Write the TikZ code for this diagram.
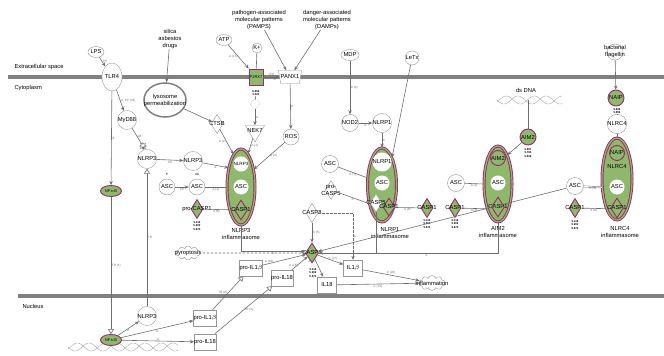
\documentclass[tikz,border=0pt]{standalone}
\usepackage{fontspec}
\setmainfont{Liberation Sans}
\usetikzlibrary{shapes.geometric,shapes.symbols,arrows.meta,positioning}

\definecolor{membgray}{RGB}{128,128,128}
\definecolor{linegray}{RGB}{110,110,110}
\definecolor{nodegray}{RGB}{150,150,150}
\definecolor{hitgreen}{RGB}{142,184,108}
\definecolor{hitmag}{RGB}{158,42,108}

\newcommand\molfont{\fontsize{5.8}{7}\selectfont}
\newcommand\edgefont{\fontsize{3.1}{3.5}\selectfont}
\newcommand\valfont{\fontsize{2.8}{3.2}\selectfont\bfseries}
\newcommand\dnahelix[3]{% left x, middle y, width
  \draw[nodegray, line width=0.3pt] plot[domain=0:#3, samples=90, smooth] ({#1+\x},{#2+4*sin(\x/28*360)});
  \draw[nodegray, line width=0.3pt] plot[domain=0:#3, samples=90, smooth] ({#1+\x},{#2+4*sin(\x/28*360+150)});
}

\tikzset{
  membrane/.style={draw=membgray, line width=3.6pt},
  mol/.style={circle, draw=nodegray, fill=white, minimum size=17pt, inner sep=0pt, font=\molfont},
  molabel/.style={font=\molfont, align=center, inner sep=0pt},
  inner/.style={circle, fill=white, minimum size=15pt, inner sep=0pt, font=\molfont},
  hitmol/.style={mol, draw=hitmag, fill=hitgreen, line width=0.9pt},
  infl/.style={ellipse, draw=hitmag, double=hitgreen, double distance=1.2pt, line width=0.9pt,
    fill=hitgreen, minimum width=28pt, minimum height=76pt},
  enz/.style={diamond, draw=nodegray, fill=white, minimum width=12pt, minimum height=19pt, inner sep=0pt},
  hitenz/.style={enz, draw=hitmag, fill=hitgreen, line width=0.9pt},
  cytok/.style={rectangle, draw=nodegray, fill=white, minimum width=19pt, minimum height=16pt, inner sep=0pt, font=\molfont},
  lnk/.style={draw=linegray, line width=0.6pt},
  act/.style={lnk, -{Stealth[length=4pt,width=3.4pt]}},
  trn/.style={lnk, -{Triangle[open,length=5pt,width=6pt,fill=white]}},
  dsh/.style={lnk, dash pattern=on 2.5pt off 1.5pt},
  elab/.style={font=\edgefont, text=linegray, inner sep=0.6pt},
  vals/.style={font=\valfont, align=center, inner sep=0pt},
}

\begin{document}
\begin{tikzpicture}[x=1pt,y=-1pt]
\useasboundingbox (0,0) rectangle (664,356);

% compartments
\draw[membrane] (8,77) -- (664,77);
\draw[membrane] (18,296) -- (664,296);
\node[anchor=west, font=\molfont] (extra) at (11,67) {Extracellular space};
\node[anchor=west, font=\molfont] (cytoplasm) at (11,88) {Cytoplasm};
\node[anchor=west, font=\molfont] (nucleus) at (19,306) {Nucleus};

% extracellular inputs
\node[mol, ellipse, minimum width=16pt, minimum height=11pt] (lps) at (96,52) {LPS};
\node[molabel] (silica) at (170,39) {silica\\asbestos\\drugs};
\node[mol, ellipse, minimum width=16pt, minimum height=11pt] (atp) at (224,40) {ATP};
\node[mol, minimum size=10pt] (kplus) at (257,48) {K+};
\node[molabel] (pamps) at (259,20) {pathogen-associated\\molecular patterns\\(PAMPS)};
\node[molabel] (damps) at (327,20) {danger-associated\\molecular patterns\\(DAMPs)};
\node[mol, ellipse, minimum width=16pt, minimum height=11pt] (mdp) at (350,55) {MDP};
\node[mol, minimum size=14pt] (letx) at (412,58) {LeTx};
\node[mol, minimum size=16pt, label={[molabel]center:bacterial\\flagellin}] (flag) at (615,52) {};

% membrane receptors
\node[mol, ellipse, minimum width=14pt, minimum height=28pt] (tlr4) at (112,77) {TLR4};
\node[rectangle, draw=hitmag, fill=hitgreen, line width=0.9pt, minimum width=14pt, minimum height=16pt,
  inner sep=0pt, font=\fontsize{4}{5}\selectfont] (p2rx7) at (256,77) {P2RX7};
\node[trapezium, shape border rotate=180, draw=nodegray, fill=white, minimum width=22pt, minimum height=13pt,
  inner sep=0pt, trapezium stretches=true, font=\molfont] (panx1) at (290,77) {PANX1};

% cytoplasm, left part
\node[mol, minimum size=42pt, minimum height=34pt, ellipse, draw=membgray, line width=1.5pt,
  label={[molabel]center:lysosome\\permeabilization}] (lyso) at (165,100) {};
\node[mol, minimum size=16pt] (myd88) at (127,120) {MyD88};
\node[star, star points=8, star point ratio=1.8, draw=linegray, minimum size=7pt, inner sep=0pt] (lbstar) at (143,146) {};
\node[mol, minimum size=18pt] (nlrp3a) at (147,159) {NLRP3};
\node[mol, minimum size=18pt] (nlrp3b) at (193,161) {NLRP3};
\node[enz, label={[molabel]center:CTSB}] (ctsb) at (217,124) {};
\node[vals] (p2val) at (256,93) {5.859\\4.021};
\node[circle, draw=nodegray, densely dotted, minimum size=9pt, inner sep=0pt] (kefflux) at (255,104) {};
\node[regular polygon, regular polygon sides=3, shape border rotate=180, draw=nodegray, fill=white,
  minimum size=22pt, inner sep=0pt, label={[molabel]center:NEK7}] (nek7) at (255,131) {};
\node[mol, minimum size=16pt] (ros) at (291,137) {ROS};
\node[mol, minimum size=17pt] (nod2) at (350,123) {NOD2};
\node[mol, minimum size=17pt] (nlrp1) at (382,123) {NLRP1};
\node[mol, ellipse, draw=hitmag, fill=hitgreen, line width=0.9pt, minimum width=21pt, minimum height=11pt,
  font=\fontsize{4}{5}\selectfont] (nfkb) at (111,191) {NF$\kappa$B};

% NLRP3 inflammasome
\node[mol, minimum size=16pt, label={[font=\edgefont, text=black]above:P}] (ascp) at (167,187) {ASC};
\node[mol, minimum size=16pt, label={[font=\edgefont, text=black]above:Ub}] (ascu) at (197,187) {ASC};
\node[hitenz, label={[molabel]center:pro-CASP1}] (procasp1) at (197,209) {};
\node[vals] (procasp1val) at (197,226) {5.116\\5.902\\5.674};
\node[infl] (n3) at (241,187) {};
\node[inner, font=\fontsize{4.6}{5}\selectfont] (n3nlrp) at (241,164) {NLRP3};
\node[inner] (n3asc) at (241,187) {ASC};
\node[hitenz, minimum width=13pt, minimum height=20pt, label={[molabel]center:CASP1}] (n3casp) at (241,210) {};
\node[molabel] (n3lab) at (241,234) {NLRP3\\inflammasome};

% NLRP1 inflammasome
\node[mol, minimum size=17pt] (asc1) at (330,164) {ASC};
\node[enz, label={[molabel]center:pro-\\CASP5}] (procasp5) at (331,190) {};
\node[infl, minimum width=29pt, minimum height=74pt] (n1) at (382,185) {};
\node[inner] (n1nlrp) at (382,162) {NLRP1};
\node[inner] (n1asc) at (382,183) {ASC};
\node[enz, minimum width=12pt, minimum height=18pt, label={[molabel]center:CASP5}] (n1casp5) at (376,203) {};
\node[hitenz, minimum width=12pt, minimum height=18pt, label={[molabel]center:CASP1}] (n1casp1) at (389,207) {};
\node[molabel] (n1lab) at (390,233) {NLRP1\\inflammasome};
\node[hitenz, label={[molabel]center:CASP1}] (casp1a) at (427,208) {};
\node[vals] (casp1aval) at (427,224) {5.116\\5.902\\5.674};

% AIM2 inflammasome
\node[molabel] (dsdnalab) at (526,90) {ds DNA};
\dnahelix{497}{100}{65}
\coordinate (dsdna) at (528,100);
\node[hitmol, minimum size=16pt] (aim2) at (528,137) {AIM2};
\node[vals] (aim2val) at (528,153) {5.897\\5.760\\5.639};
\node[mol, minimum size=17pt] (asc2) at (456,183) {ASC};
\node[hitenz, label={[molabel]center:CASP1}] (casp1b) at (455,208) {};
\node[vals] (casp1bval) at (455,224) {5.116\\5.902\\5.674};
\node[infl] (n2) at (498,184) {};
\node[hitmol, minimum size=15pt] (n2aim2) at (498,158) {AIM2};
\node[inner] (n2asc) at (498,183) {ASC};
\node[hitenz, minimum width=13pt, minimum height=20pt, label={[molabel]center:CASP1}] (n2casp) at (498,207) {};
\node[molabel] (n2lab) at (498,232) {AIM2\\inflammasome};

% NLRC4 inflammasome
\node[hitmol, minimum size=16pt] (naip) at (616,98) {NAIP};
\node[vals] (naipval) at (617,111) {5.826\\5.856};
\node[mol, minimum size=14pt] (nlrc4) at (617,124) {NLRC4};
\node[mol, minimum size=17pt] (asc3) at (575,186) {ASC};
\node[hitenz, label={[molabel]center:CASP1}] (casp1c) at (575,208) {};
\node[vals] (casp1cval) at (575,225) {5.116\\5.902\\5.674};
\node[infl, minimum width=30pt, minimum height=82pt] (n4) at (617,179) {};
\node[hitmol, minimum size=15pt] (n4naip) at (617,153) {NAIP};
\node[molabel] (n4nlrc4) at (617,167) {NLRC4};
\node[inner] (n4asc) at (617,187) {ASC};
\node[hitenz, minimum width=13pt, minimum height=20pt, label={[molabel]center:CASP1}] (n4casp) at (617,208) {};
\node[molabel] (n4lab) at (620,232) {NLRC4\\inflammasome};

% caspase-1 and cytokines
\node[enz, label={[molabel]center:CASP8}] (casp8) at (312,213) {};
\node[hitenz, minimum width=13pt, minimum height=20pt, label={[molabel]center:CASP1}] (cc) at (312,253) {};
\node[vals] (ccval) at (313,273) {5.116\\5.902\\5.674};
\node[cloud, cloud puffs=10, draw=nodegray, minimum width=24pt, minimum height=14pt,
  label={[molabel]center:pyroptosis}] (pyro) at (188,253) {};
\node[cytok] (proil1b) at (251,268) {pro-IL1$\beta$};
\node[cytok] (proil18) at (282,278) {pro-IL18};
\node[cytok] (il1b) at (353,268) {IL1$\beta$};
\node[cytok] (il18) at (327,285) {IL18};
\node[cloud, cloud puffs=10, draw=nodegray, minimum width=26pt, minimum height=15pt,
  label={[molabel]center:inflammation}] (inflam) at (432,283) {};

% nucleus
\dnahelix{68}{347}{110}
\node[mol, minimum size=18pt] (nlrp3n) at (147,316) {NLRP3};
\node[mol, ellipse, draw=hitmag, fill=hitgreen, line width=0.9pt, minimum width=21pt, minimum height=11pt,
  font=\fontsize{4}{5}\selectfont] (nfkbn) at (111,340) {NF$\kappa$B};
\node[cytok] (proil1bn) at (205,318) {pro-IL1$\beta$};
\node[cytok] (proil18n) at (205,342) {pro-IL18};

% TLR4 and lysosome branch
\draw[act] (lps) -- node[elab, right]{PP} (tlr4);
\draw[act] (tlr4) -- node[elab, right]{A, PP (33)} (myd88);
\draw[act] (silica) -- (lyso);
\draw[act] (lyso) -- (ctsb);
\draw[lnk] (myd88) -- node[elab, right]{LB} (lbstar);
\draw[act] (lbstar) -- (nlrp3a);
\draw[act] (nlrp3a) -- node[elab, below]{AS} (nlrp3b);
\draw[act] (nlrp3b) -- node[elab, below]{A} (n3.123);
\draw[act] (ctsb) -- node[elab, left]{A (2)} (n3.103);
\draw[act] (nek7) -- node[elab, right]{A (1)} (n3.78);
\draw[act] (ros) -- node[elab, right]{A (3)} (n3.54);
\draw[act] (ascp) -- node[elab, below]{PR} (ascu);
\draw[lnk] (ascu) -- node[elab, below]{A (1)} (n3.180);
\draw[lnk] (procasp1) -- node[elab, below]{A (8)} (n3.243);

% P2RX7 / PANX1 branch
\draw[act] (atp) -- node[elab, left]{A (15)} (p2rx7);
\draw[lnk] (kplus) -- (p2rx7);
\draw[act] (p2rx7) -- node[elab, above]{(33)} node[elab, below, pos=0.7]{A} (panx1);
\draw[lnk] (p2val) -- (kefflux);
\draw[act] (kefflux) -- node[elab, right]{A} (nek7);
\draw[act] (pamps) -- (panx1);
\draw[act] (damps) -- (panx1);
\draw[act] (panx1) -- node[elab, right]{A} (ros);

% NLRP1 branch
\draw[act] (mdp) -- node[elab, right]{A (4)} (nod2);
\draw[act] (nod2) -- node[elab, below]{A} (nlrp1);
\draw[act] (nlrp1) -- node[elab, right]{A} (n1.north);
\draw[act] (letx) -- (n1.70);
\draw[lnk] (asc1) -- node[elab, below]{A (1)} (n1.154);
\draw[lnk] (procasp5) -- node[elab, below]{A} (n1.235);
\draw[lnk] (casp1a) -- node[elab, below]{A (8)} (n1.298);

% AIM2 branch
\draw[lnk] (dsdna) -- (aim2);
\draw[act] (aim2) -- node[elab, right]{A} (n2.72);
\draw[lnk] (asc2) -- node[elab, below]{A (1)} (n2.180);
\draw[lnk] (casp1b) -- node[elab, below]{A (8)} (n2.246);

% NLRC4 branch
\draw[act] (flag) -- (naip);
\draw[lnk] (naipval) -- (nlrc4);
\draw[lnk] (nlrc4) -- (n4.north);
\draw[lnk, double, double distance=0.8pt, line width=0.4pt] (asc3) -- node[elab, below]{A (1)} (n4.209);
\draw[lnk] (casp1c) -- node[elab, below]{A (8)} (n4.250);

% inflammasomes to caspase-1
\draw[act] (n3.south) |- node[elab, below, pos=0.75]{A} ([yshift=1.5pt]cc.west);
\draw[lnk] (n1casp5.south) -- (n1casp5.south |- cc.east);
\draw[act] (n2.south) |- node[elab, below, pos=0.7]{A} (cc.east);
\draw[act] (asc3) -- (cc);
\draw[act] (casp8) -- node[elab, right]{A (5)} (cc);
\draw[dsh, -{Stealth[length=4pt,width=3.4pt]}] (casp8) -| node[elab, right, pos=0.75]{A} (il1b);
\draw[dsh] (cc.west) -- (pyro);

% cytokine processing
\draw[act] (proil1b) -- node[elab, above, pos=0.15]{C (18)} (cc);
\draw[act] (proil18) -- node[elab, above, pos=0.1]{A (16)} (cc);
\draw[act] (cc) -- node[elab, above, pos=0.6]{C (27)} (il1b);
\draw[act] (cc) -- node[elab, left, pos=0.15]{A (3)} (il18);
\draw[act] (il1b) -- node[elab, above]{C (20)} (inflam);
\draw[act] (il18) -- node[elab, below]{C (21)} (inflam);

% NF-kB and transcription
\draw[act] (tlr4) -- node[elab, right]{A} (nfkb);
\draw[trn] (nfkb) -- node[elab, right]{TR (1)} (nfkbn);
\draw[act] (nfkbn) -- node[elab, below]{A} (nlrp3n);
\draw[act] (nfkbn) -- node[elab, below]{A} (proil1bn);
\draw[act] (nfkbn) -- node[elab, above]{A} (proil18n);
\draw[trn] (nlrp3n) -- node[elab, right]{TR} (nlrp3a);
\draw[trn] (proil1bn) -- node[elab, left]{TR (8)} (proil1b);
\draw[trn] (proil18n) -- node[elab, right]{TR (3)} (proil18);
\end{tikzpicture}
\end{document}
